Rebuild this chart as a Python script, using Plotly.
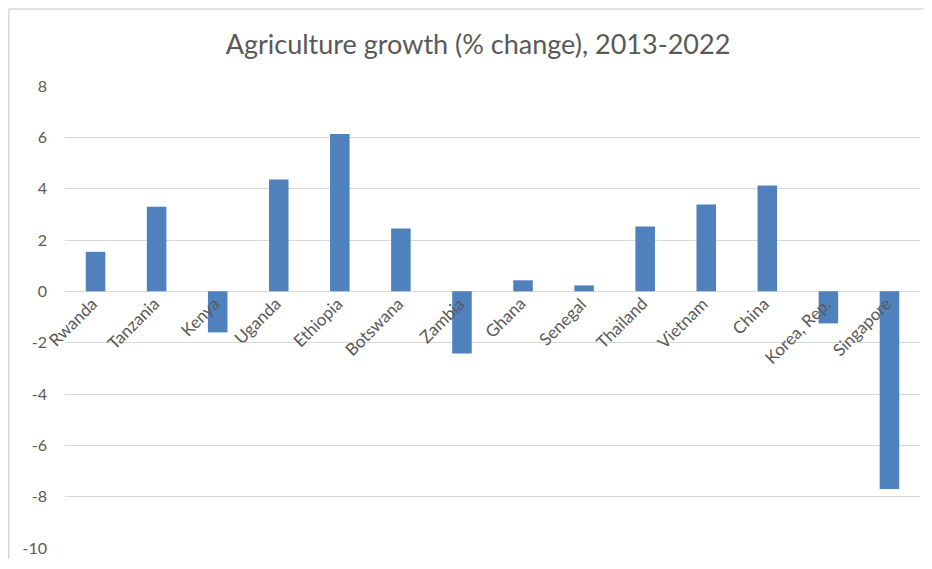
import plotly.graph_objects as go

countries = ["Rwanda", "Tanzania", "Kenya", "Uganda", "Ethiopia", "Botswana", "Zambia",
             "Ghana", "Senegal", "Thailand", "Vietnam", "China", "Korea, Rep.", "Singapore"]
growth = [1.54, 3.3, -1.6, 4.36, 6.13, 2.45, -2.42, 0.43, 0.23, 2.53, 3.38, 4.12, -1.25, -7.7]
y_ticks = [-10, -8, -6, -4, -2, 0, 2, 4, 6, 8]
y_tick_text = ["-10", "-8", "-6", "-4", "-2", "0", "2", "4", "6", "8"]

# page body has an 8px margin, so the figure is drawn 8px in from the window edge
W, H = 916, 553
L, R, T, B = 57, 4, 78, 11

fig = go.Figure()
fig.add_trace(go.Bar(x=countries, y=growth, marker=dict(color="#4F81BD", line=dict(width=0)),
                     width=0.32))

font_family = "Lato, Open Sans, sans-serif"
for c in countries:
    fig.add_annotation(x=c, y=0, text=c, showarrow=False, textangle=-45,
                       xanchor="right", yanchor="top", xshift=9, yshift=1,
                       font=dict(family=font_family, size=17, color="#595959"))

pw = W - L - R
ph = H - T - B
# chart-area border: only the top and left edges fall inside the window
top_y = (H - B - 0.75) / ph
left_x = (0.75 - L) / pw
fig.add_shape(type="line", xref="paper", yref="paper", x0=left_x, x1=(W - L) / pw,
              y0=top_y, y1=top_y, line=dict(color="#D9D9D9", width=1.5), layer="below")
fig.add_shape(type="line", xref="paper", yref="paper", x0=left_x, x1=left_x,
              y0=(H - B - H) / ph, y1=top_y, line=dict(color="#D9D9D9", width=1.5), layer="below")

fig.update_layout(
    width=W, height=H,
    margin=dict(l=L, r=R, t=T, b=B),
    paper_bgcolor="white", plot_bgcolor="white",
    showlegend=False,
    title=dict(text="Agriculture growth (% change), 2013-2022", x=(478 - 8) / W, xanchor="center",
               y=1 - 37 / H, yanchor="middle",
               font=dict(family=font_family, size=27, color="#595959")),
    xaxis=dict(showticklabels=False, showgrid=False, zeroline=False, showline=False,
               ticks="", range=[-0.5, len(countries) - 0.5]),
    yaxis=dict(range=[-10, 8], tickvals=y_ticks, ticktext=y_tick_text, showgrid=True,
               gridcolor="#D9D9D9", gridwidth=1, zeroline=True, zerolinecolor="#D9D9D9",
               zerolinewidth=1, showline=False, ticks="", ticklabelstandoff=17,
               tickfont=dict(family=font_family, size=16, color="#595959")),
)

fig.write_html("out.html")
